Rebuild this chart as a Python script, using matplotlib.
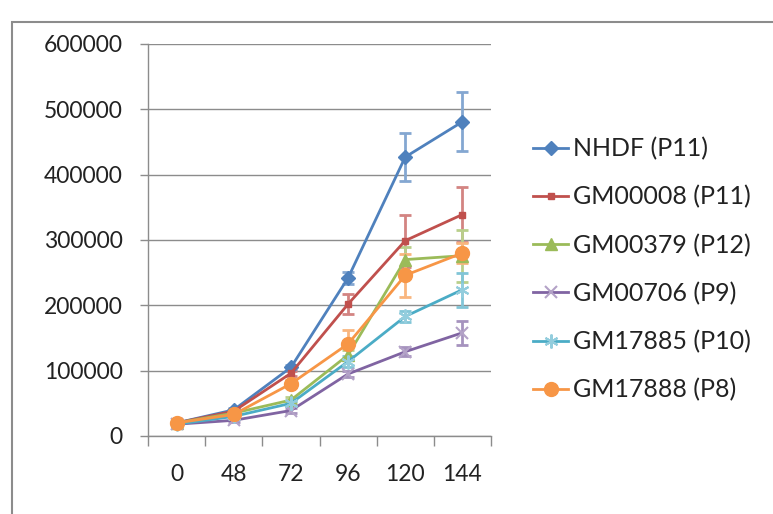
import matplotlib
matplotlib.use("Agg")
import matplotlib.pyplot as plt
from matplotlib.patches import Rectangle
from matplotlib.colors import to_rgb
import numpy as np

plt.rcParams['font.family'] = ['Lato', 'DejaVu Sans']

hours = ["0", "48", "72", "96", "120", "144"]

nhdf = [20000, 40000, 105000, 242000, 427000, 481000]
nhdf_err = [3000, 3000, 4000, 9000, 37000, 45000]
gm00008 = [20000, 38000, 96000, 202000, 299000, 339000]
gm00008_err = [3000, 3000, 4000, 15000, 40000, 42000]
gm00379 = [20000, 35000, 55000, 124000, 270000, 276000]
gm00379_err = [3000, 3000, 5000, 8000, 20000, 40000]
gm00706 = [18000, 24000, 39000, 95000, 129000, 158000]
gm00706_err = [3000, 3000, 4000, 5000, 7000, 18000]
gm17885 = [18000, 30000, 50000, 114000, 183000, 224000]
gm17885_err = [3000, 3000, 4000, 8000, 8000, 26000]
gm17888 = [20000, 33000, 80000, 141000, 246000, 280000]
gm17888_err = [3000, 3000, 5000, 22000, 33000, 15000]

labels = ["NHDF (P11)", "GM00008 (P11)", "GM00379 (P12)",
          "GM00706 (P9)", "GM17885 (P10)", "GM17888 (P8)"]
series = [nhdf, gm00008, gm00379, gm00706, gm17885, gm17888]
errors = [nhdf_err, gm00008_err, gm00379_err, gm00706_err, gm17885_err, gm17888_err]
colors = ["#4F81BD", "#C0504D", "#9BBB59", "#8064A2", "#4BACC6", "#F79646"]
markers = ["D", "s", "^", "x", (6, 2, 0), "o"]
msizes = [7, 4, 8, 9, 10, 10]


def lighten(c, f=0.3):
    r, g, b = to_rgb(c)
    return (r + (1 - r) * f, g + (1 - g) * f, b + (1 - b) * f)


fig = plt.figure(figsize=(7.73, 5.14), dpi=100)
fig.patches.append(Rectangle((12 / 773, -0.1), 1.2, (514 - 22) / 514 + 0.1,
                             transform=fig.transFigure, fill=False,
                             edgecolor="#8c8c8c", linewidth=1.5))
ax = fig.add_axes([148 / 773, 78 / 514, 343 / 773, 392 / 514])

x = np.arange(len(hours))
for vals, err, col, mk, ms, lab in zip(series, errors, colors, markers, msizes, labels):
    ax.errorbar(x, vals, yerr=err, fmt="none", ecolor=lighten(col), elinewidth=2,
                capsize=4, capthick=2, zorder=2)
    ax.plot(x, vals, color=col, marker=mk, markersize=ms, linewidth=2,
            markeredgewidth=1.5 if mk in ("x", (6, 2, 0)) else 1,
            markeredgecolor=lighten(col, 0.4) if mk in ("x", (6, 2, 0)) else col,
            label=lab, zorder=3)

ax.set_xlim(-0.5, len(hours) - 0.5)
ax.set_ylim(0, 600000)
ax.set_yticks(np.arange(0, 600001, 100000))
ax.set_yticklabels([str(v) for v in range(0, 600001, 100000)])
ax.set_xticks(np.arange(-0.5, len(hours), 1.0))
ax.set_xticklabels([])
ax.set_xticks(x, minor=True)
ax.set_xticklabels(hours, minor=True)
ax.tick_params(axis="x", which="minor", length=0, pad=20, labelsize=16.5, colors="#222222")
ax.tick_params(axis="x", which="major", length=7, width=1, color="#8c8c8c", direction="out")
ax.tick_params(axis="y", length=6, width=1, color="#8c8c8c", direction="out",
               labelsize=16.5, labelcolor="#222222", pad=12)
ax.grid(axis="y", color="#8c8c8c", linewidth=1)
ax.set_axisbelow(True)
for s in ["top", "right"]:
    ax.spines[s].set_visible(False)
for s in ["left", "bottom"]:
    ax.spines[s].set_color("#8c8c8c")
    ax.spines[s].set_linewidth(1)

fig.legend(loc="upper left", bbox_to_anchor=(533 / 773, (514 - 137) / 514),
           frameon=False, fontsize=18, labelspacing=1.0, handlelength=1.4,
           handletextpad=0.2, borderpad=0, borderaxespad=0, labelcolor="#222222")

fig.savefig("out.png", dpi=100)
